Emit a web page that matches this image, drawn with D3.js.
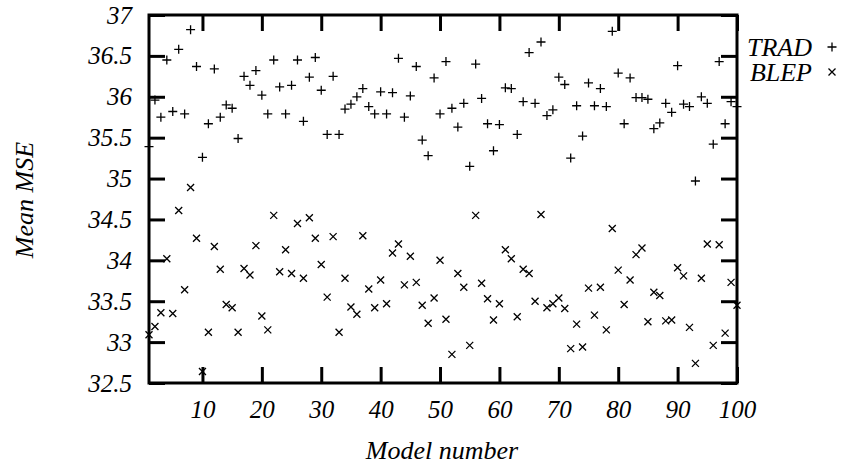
<!DOCTYPE html>
<head>
    <style>
    body { margin: 0; background: #fff; }
    text {
      font-family: "Liberation Serif", "Times New Roman", serif;
      font-style: italic;
      font-size: 26px;
      fill: #000;
    }
    .axis path.domain { display: none; }
    .axis line { stroke: #000; stroke-width: 3; }
    .frame { fill: none; stroke: #000; stroke-width: 3; }
    .mark { fill: none; stroke: #000; stroke-width: 1.3; }
    </style>
    <script src="https://d3js.org/d3.v7.min.js"></script>
</head>
<body>
    <svg width="842" height="464"></svg>
    <script>

    // mean MSE per model (model number 1..100)
    var trad = [
      35.39, 35.96, 35.75, 36.45, 35.82, 36.58, 35.79, 36.82, 36.37, 35.26,
      35.67, 36.34, 35.75, 35.90, 35.86, 35.49, 36.25, 36.14, 36.32, 36.02,
      35.79, 36.45, 36.12, 35.79, 36.14, 36.45, 35.70, 36.24, 36.48, 36.08,
      35.54, 36.25, 35.54, 35.85, 35.91, 36.00, 36.10, 35.88, 35.79, 36.06,
      35.79, 36.05, 36.47, 35.75, 36.01, 36.37, 35.47, 35.28, 36.23, 35.79,
      36.43, 35.86, 35.63, 35.92, 35.15, 36.40, 35.98, 35.67, 35.34, 35.66,
      36.11, 36.10, 35.54, 35.94, 36.54, 35.92, 36.67, 35.77, 35.84, 36.24,
      36.15, 35.25, 35.89, 35.52, 36.17, 35.89, 36.10, 35.88, 36.80, 36.29,
      35.67, 36.23, 35.99, 35.99, 35.97, 35.61, 35.68, 35.92, 35.81, 36.38,
      35.91, 35.88, 34.97, 36.00, 35.92, 35.42, 36.43, 35.67, 35.94, 35.88
    ];

    var blep = [
      33.09, 33.19, 33.36, 34.02, 33.35, 34.61, 33.64, 34.89, 34.27, 32.64,
      33.12, 34.17, 33.89, 33.46, 33.42, 33.12, 33.90, 33.82, 34.18, 33.32,
      33.15, 34.55, 33.86, 34.13, 33.84, 34.45, 33.78, 34.52, 34.27, 33.95,
      33.55, 34.29, 33.12, 33.78, 33.43, 33.34, 34.30, 33.65, 33.42, 33.76,
      33.47, 34.09, 34.20, 33.70, 34.05, 33.73, 33.45, 33.23, 33.54, 34.00,
      33.28, 32.85, 33.84, 33.67, 32.96, 34.55, 33.72, 33.53, 33.27, 33.47,
      34.13, 34.02, 33.31, 33.89, 33.84, 33.50, 34.56, 33.42, 33.47, 33.54,
      33.41, 32.92, 33.22, 32.94, 33.66, 33.33, 33.67, 33.15, 34.39, 33.88,
      33.46, 33.76, 34.07, 34.15, 33.25, 33.61, 33.57, 33.26, 33.27, 33.91,
      33.81, 33.18, 32.74, 33.78, 34.20, 32.96, 34.19, 33.11, 33.73, 33.45
    ];

    var xTicks = [10, 20, 30, 40, 50, 60, 70, 80, 90, 100];
    var yTicks = [32.5, 33, 33.5, 34, 34.5, 35, 35.5, 36, 36.5, 37];
    var seriesNames = ["TRAD", "BLEP"];

    var svg = d3.select("svg");
    var box = {left: 149, right: 737, top: 15, bottom: 383};

    var x = d3.scaleLinear().domain([1, 100]).range([box.left, box.right]);
    var y = d3.scaleLinear().domain([32.5, 37]).range([box.bottom, box.top]);

    var plus = "M-4.5,0h9M0,-4.5v9";
    var cross = "M-3.5,-3.5l7,7M-3.5,3.5l7,-7";

    svg.append("g")
        .attr("class", "axis")
        .attr("transform", "translate(0," + box.bottom + ")")
        .call(d3.axisBottom(x).tickValues(xTicks).tickSizeInner(-16).tickSizeOuter(0).tickPadding(17)
          .tickFormat(d3.format("d")));

    svg.append("g")
        .attr("class", "axis")
        .attr("transform", "translate(0," + box.top + ")")
        .call(d3.axisTop(x).tickValues(xTicks).tickSizeInner(-16).tickSizeOuter(0).tickFormat(""));

    svg.append("g")
        .attr("class", "axis")
        .attr("transform", "translate(" + box.left + ",0)")
        .call(d3.axisLeft(y).tickValues(yTicks).tickSizeInner(-16).tickSizeOuter(0).tickPadding(17)
          .tickFormat(function(d) { return String(d); }));

    svg.append("g")
        .attr("class", "axis")
        .attr("transform", "translate(" + box.right + ",0)")
        .call(d3.axisRight(y).tickValues(yTicks).tickSizeInner(-16).tickSizeOuter(0).tickFormat(""));

    svg.selectAll(".axis text")
        .style("font-family", "'Liberation Serif', 'Times New Roman', serif")
        .style("font-style", "italic")
        .style("font-size", "25px")
        .attr("fill", "#000");

    svg.append("rect")
        .attr("class", "frame")
        .attr("x", box.left)
        .attr("y", box.top)
        .attr("width", box.right - box.left)
        .attr("height", box.bottom - box.top);

    svg.append("g")
      .selectAll("path")
      .data(trad)
      .enter().append("path")
        .attr("class", "mark")
        .attr("d", plus)
        .attr("transform", function(d, i) { return "translate(" + x(i + 1) + "," + y(d) + ")"; });

    svg.append("g")
      .selectAll("path")
      .data(blep)
      .enter().append("path")
        .attr("class", "mark")
        .attr("d", cross)
        .attr("transform", function(d, i) { return "translate(" + x(i + 1) + "," + y(d) + ")"; });

    // legend
    var legend = svg.append("g")
      .selectAll("g")
      .data(seriesNames)
      .enter().append("g")
        .attr("transform", function(d, i) { return "translate(0," + (47 + i * 25) + ")"; });

    legend.append("text")
        .attr("x", 812)
        .attr("y", 9)
        .attr("text-anchor", "end")
        .text(function(d) { return d; });

    legend.append("path")
        .attr("class", "mark")
        .attr("d", function(d, i) { return i === 0 ? plus : cross; })
        .attr("transform", "translate(832,0)");

    svg.append("text")
        .attr("x", 442)
        .attr("y", 459)
        .attr("text-anchor", "middle")
        .text("Model number");

    svg.append("text")
        .attr("transform", "translate(33,200) rotate(-90)")
        .attr("text-anchor", "middle")
        .text("Mean MSE");

    </script>
</body>
